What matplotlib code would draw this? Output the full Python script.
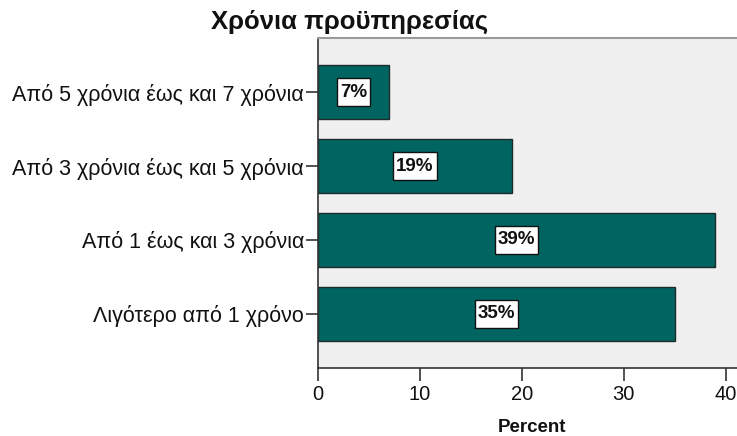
import matplotlib.pyplot as plt
from matplotlib.patches import Rectangle

# Years of prior service, share of respondents (%)
categories = ['Λιγότερο από 1 χρόνο', 'Από 1 έως και 3 χρόνια',
              'Από 3 χρόνια έως και 5 χρόνια', 'Από 5 χρόνια έως και 7 χρόνια']
percents = [35, 39, 19, 7]
xticks = [0, 10, 20, 30, 40]

plt.rcParams['font.family'] = ['Liberation Sans', 'DejaVu Sans']

W, H = 737, 436
fig = plt.figure(figsize=(W / 100, H / 100), dpi=100)
fig.patch.set_facecolor('white')

# axes runs a little past the right edge of the figure
ax = fig.add_axes([318 / W, 1 - 368 / H, 428 / W, 330 / H])
ax.set_facecolor('#f0f0f0')

ypos = list(range(len(categories)))
ax.barh(ypos, percents, height=0.74, color='#006561', edgecolor='#1e2b2a', linewidth=1.0)

labels = []
for y, v in zip(ypos, percents):
    t = ax.text(v / 2, y, f'{v}%', ha='center', va='center', fontsize=13.5,
                fontweight='bold', color='#111111', zorder=5)
    labels.append(t)

ax.set_xlim(0, 42)
ax.set_ylim(-0.73, 3.73)
ax.set_yticks(ypos)
ax.set_yticklabels(categories, fontsize=15.5, color='#111111')
ax.set_xticks(xticks)
ax.set_xticklabels([str(t) for t in xticks], fontsize=14.5, color='#111111')
ax.tick_params(axis='both', direction='out', length=9, width=1.2, color='#333333')
ax.tick_params(axis='y', pad=1)
ax.tick_params(axis='x', pad=3)

for s in ['left', 'bottom']:
    ax.spines[s].set_color('#333333')
    ax.spines[s].set_linewidth(1.2)
ax.spines['top'].set_color('#9a9a9a')
ax.spines['top'].set_linewidth(1.5)
ax.spines['right'].set_visible(False)

fig.text(532 / W, 1 - 427 / H, 'Percent', ha='center', va='center',
         fontsize=13.5, fontweight='bold', color='#111111')
fig.text(350 / W, 1 - 22 / H, 'Χρόνια προϋπηρεσίας', ha='center', va='center',
         fontsize=18.5, fontweight='bold', color='#111111')

# white boxes behind the value labels: narrow side padding, taller top/bottom
fig.canvas.draw()
renderer = fig.canvas.get_renderer()
inv = ax.transData.inverted()
for t in labels:
    bb = t.get_window_extent(renderer)
    cy = (bb.y0 + bb.y1) / 2
    (x0, y0) = inv.transform((bb.x0 - 3, cy - 14))
    (x1, y1) = inv.transform((bb.x1 + 3, cy + 14))
    ax.add_patch(Rectangle((x0, y0), x1 - x0, y1 - y0, facecolor='white',
                           edgecolor='#111111', linewidth=1.0, zorder=4))

fig.savefig('out.png', dpi=100)
